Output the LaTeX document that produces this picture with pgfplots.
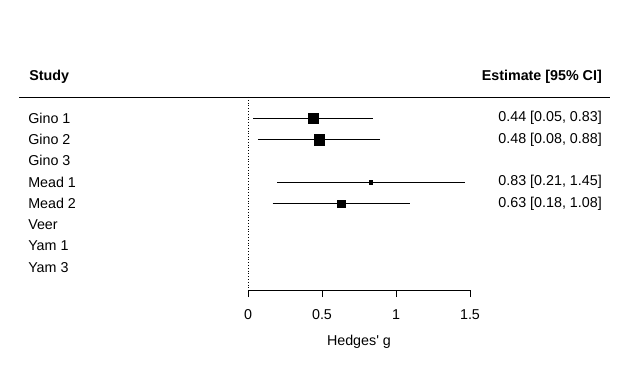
\documentclass[border=0pt]{standalone}
\usepackage{fontspec}
\setmainfont{Liberation Sans}
\usepackage{pgfplots}
\pgfplotsset{compat=1.18}
\begin{document}
\fontsize{14.3}{16}\selectfont
\begin{tikzpicture}
\begin{axis}[
  name=ax, scale only axis, width=222pt, height=193pt,
  xmin=0, xmax=1.5, ymin=-0.066, ymax=9.0,
  axis x line*=bottom, axis y line=none,
  xtick={0,0.5,1,1.5}, xticklabels={0,0.5,1,1.5},
  tick align=outside, major tick length=7pt,
  every tick/.style={black, line width=0.8pt},
  axis line style={line width=0.8pt},
  clip=false,
  /pgf/number format/assume math mode=true,
  xticklabel style={font=\fontsize{14.3}{16}\selectfont, anchor=center, yshift=-18pt},
  xlabel={Hedges\textquotesingle\ g},
  xlabel style={font=\fontsize{14.3}{16}\selectfont, at={(axis description cs:0.5,0)}, anchor=center, yshift=-52pt},
  error bars/error bar style={line width=0.8pt, black},
  error bars/error mark options={mark size=2pt, line width=0.8pt, black},
]
\addplot[only marks, mark=square*, mark size=5pt, black, error bars/.cd, x dir=both, x explicit]
  coordinates {(0.44,8) +- (0.39,0)};
\addplot[only marks, mark=square*, mark size=5.3pt, black, error bars/.cd, x dir=both, x explicit]
  coordinates {(0.48,7) +- (0.40,0)};
\addplot[only marks, mark=square*, mark size=1.7pt, black, error bars/.cd, x dir=both, x explicit]
  coordinates {(0.83,5) +- (0.62,0)};
\addplot[only marks, mark=square*, mark size=3.7pt, black, error bars/.cd, x dir=both, x explicit]
  coordinates {(0.63,4) +- (0.45,0)};
\draw[dotted, line width=0.8pt] (axis cs:0,9) -- (axis cs:0,-0.066);
\draw[line width=0.8pt] (axis cs:-1.547,9) -- (axis cs:2.446,9);
\begin{scope}[every node/.style={inner sep=0pt}]
\node[anchor=west, font=\bfseries] at (axis cs:-1.479,9.95) {Study};
\node[anchor=east, font=\bfseries] at (axis cs:2.392,9.95) {Estimate [95\% CI]};
\node[anchor=west] at (axis cs:-1.486,8) {Gino 1};
\node[anchor=west] at (axis cs:-1.486,7) {Gino 2};
\node[anchor=west] at (axis cs:-1.486,6) {Gino 3};
\node[anchor=west] at (axis cs:-1.486,5) {Mead 1};
\node[anchor=west] at (axis cs:-1.486,4) {Mead 2};
\node[anchor=west] at (axis cs:-1.486,3) {Veer};
\node[anchor=west] at (axis cs:-1.486,2) {Yam 1};
\node[anchor=west] at (axis cs:-1.486,1) {Yam 3};
\node[anchor=east] at (axis cs:2.392,8) {0.44 [0.05, 0.83]};
\node[anchor=east] at (axis cs:2.392,7) {0.48 [0.08, 0.88]};
\node[anchor=east] at (axis cs:2.392,5) {0.83 [0.21, 1.45]};
\node[anchor=east] at (axis cs:2.392,4) {0.63 [0.18, 1.08]};
\end{scope}
\end{axis}
\path[use as bounding box] ([xshift=-248pt,yshift=-89pt]ax.south west) rectangle ([xshift=160pt,yshift=97pt]ax.north east);
\end{tikzpicture}
\end{document}
